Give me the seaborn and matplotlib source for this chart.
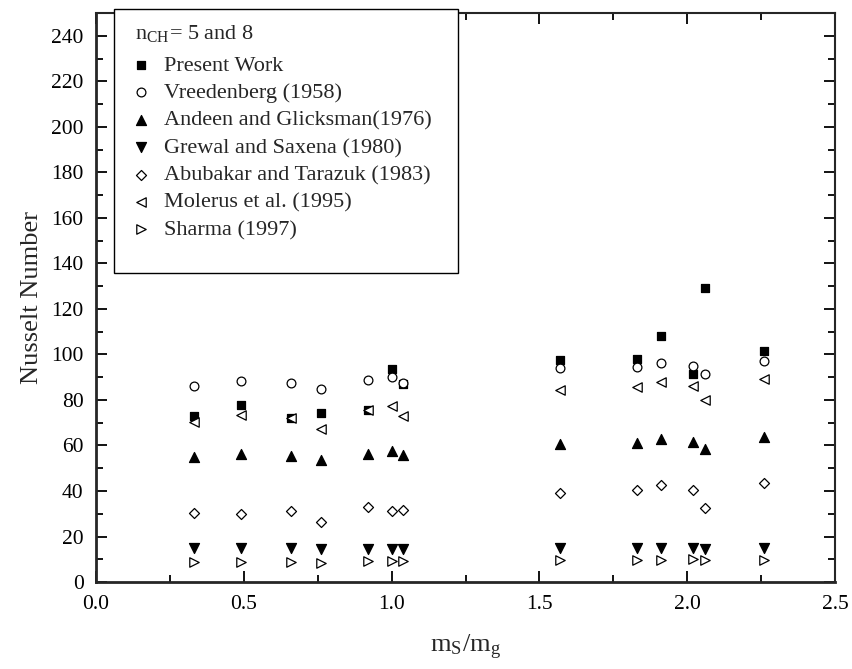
import numpy as np
import pandas as pd
import matplotlib
matplotlib.use("Agg")
import matplotlib.pyplot as plt
from matplotlib.patches import Rectangle
from matplotlib.ticker import MultipleLocator
import seaborn as sns

# mass ratio m_s/m_g at each measurement
mass_ratio = [0.33, 0.49, 0.66, 0.76, 0.92, 1.00, 1.04, 1.57, 1.83, 1.91, 2.02, 2.06, 2.26]

# Nusselt numbers
present_work = [73.0, 78.0, 72.0, 74.2, 75.7, 93.4, 87.0, 97.4, 97.8, 107.9, 91.2, 129.0, 101.6]
vreedenberg = [86.2, 88.3, 87.3, 84.6, 88.9, 90.0, 87.6, 94.0, 94.6, 96.2, 95.0, 91.2, 97.1]
andeen = [54.8, 56.2, 55.5, 53.4, 56.4, 57.4, 55.6, 60.8, 61.2, 63.0, 61.7, 58.4, 63.7]
grewal = [14.8, 14.8, 14.8, 14.4, 14.7, 14.7, 14.7, 14.9, 14.9, 14.9, 14.9, 14.6, 14.9]
abubakar = [30.2, 29.7, 31.2, 26.4, 33.0, 31.2, 31.5, 39.1, 40.3, 42.5, 40.3, 32.7, 43.6]
molerus = [70.1, 73.6, 72.0, 67.4, 75.7, 77.2, 72.9, 84.5, 85.7, 87.7, 86.2, 79.8, 89.2]
sharma = [8.6, 8.6, 8.6, 8.5, 9.2, 9.2, 9.2, 9.8, 9.8, 9.8, 10.1, 9.5, 9.8]

labels = ["Present Work", "Vreedenberg (1958)", "Andeen and Glicksman(1976)",
          "Grewal and Saxena (1980)", "Abubakar and Tarazuk (1983)",
          "Molerus et al. (1995)", "Sharma (1997)"]
series = [present_work, vreedenberg, andeen, grewal, abubakar, molerus, sharma]

# marker, filled?, size (pt^2)
styles = [("s", True, 30), ("o", False, 40), ("^", True, 52), ("v", True, 52),
          ("D", False, 26), ("<", False, 46), (">", False, 46)]

sns.set_style("ticks")
plt.rcParams["font.family"] = ["Liberation Serif", "DejaVu Serif"]
plt.rcParams["mathtext.fontset"] = "stix"

fig = plt.figure(figsize=(8.52, 6.69), dpi=100)
ax = fig.add_axes([0.1127, 0.130, 0.8674, 0.8505])

for lab, vals, (mk, filled, sz) in zip(labels, series, styles):
    df = pd.DataFrame({"x": mass_ratio, "y": vals})
    sns.scatterplot(data=df, x="x", y="y", ax=ax, marker=mk, s=sz,
                    facecolor="black" if filled else "white",
                    edgecolor="black", linewidth=0.9, label=lab, zorder=3)

ax.set_xlim(0, 2.5)
ax.set_ylim(0, 250)
ax.xaxis.set_major_locator(MultipleLocator(0.5))
ax.xaxis.set_minor_locator(MultipleLocator(0.25))
ax.yaxis.set_minor_locator(MultipleLocator(10))
ax.set_yticks(np.arange(0, 241, 20))
ax.xaxis.set_major_formatter(matplotlib.ticker.FormatStrFormatter("%.1f"))

ax.tick_params(which="both", direction="in", top=True, right=True,
               width=1.3, colors="black", labelsize=15.5, pad=9)
ax.tick_params(which="major", length=8)
ax.tick_params(which="minor", length=5)
for side in ["left", "bottom"]:
    ax.spines[side].set_linewidth(2.0)
for side in ["right", "top"]:
    ax.spines[side].set_linewidth(1.5)

ax.set_xlabel(r"m$_\mathregular{S}$/m$_\mathregular{g}$", fontsize=19, labelpad=14)
ax.set_ylabel("Nusselt Number", fontsize=19, labelpad=6)

# legend box drawn as plain rectangle (it pokes above the axes top)
box = Rectangle((114 / 852, 1 - 273 / 669), (458 - 114) / 852, (273 - 9) / 669,
                transform=fig.transFigure, facecolor="white", edgecolor="black",
                linewidth=1.0, zorder=10, clip_on=False)
ax.add_patch(box)

leg = ax.legend(loc="upper left", bbox_to_anchor=(135 / 852, 1 - 23 / 669),
                bbox_transform=fig.transFigure, frameon=False, fontsize=16,
                title=r"n$_\mathregular{CH}$= 5 and 8", title_fontsize=16,
                alignment="left", labelspacing=0.31, handletextpad=0.75,
                handlelength=0.55, borderaxespad=0, borderpad=0)
leg.set_zorder(11)
leg._legend_box.sep = 8

fig.savefig("out.png", dpi=100)
